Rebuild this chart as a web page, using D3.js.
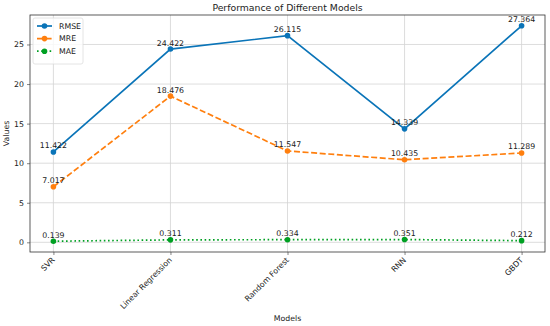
<!DOCTYPE html>
<html>
<head>
<meta charset="utf-8">
<script src="https://cdn.jsdelivr.net/npm/d3@7"></script>
<style>
  body { margin: 0; background: #fff; }
  svg, svg text { font-family: 'DejaVu Sans', sans-serif; }
</style>
</head>
<body>
<div id="chart"></div>
<script>
const models = ['SVR', 'Linear Regression', 'Random Forest', 'RNN', 'GBDT'];
const rmse = [11.422, 24.422, 26.115, 14.339, 27.364];
const mre = [7.017, 18.476, 11.547, 10.435, 11.289];
const mae = [0.139, 0.311, 0.334, 0.351, 0.212];
const yTicks = [0, 5, 10, 15, 20, 25];

const size = { width: 550, height: 326 };
const margin = { left: 30, top: 15, right: 5, bottom: 74 };
const fontFamily = "'DejaVu Sans', sans-serif";

const series = [
  { name: 'RMSE', values: rmse, color: '#0a74b8', dash: null },
  { name: 'MRE', values: mre, color: '#ff7f0e', dash: '6,2.6' },
  { name: 'MAE', values: mae, color: '#00a023', dash: '1.6,2.6' },
];

const svg = d3.select('#chart').append('svg')
  .attr('width', size.width)
  .attr('height', size.height);

const x = d3.scaleLinear()
  .domain([-0.2, models.length - 0.8])
  .range([margin.left, size.width - margin.right]);

const allVals = [...rmse, ...mre, ...mae];
const yMin = d3.min(allVals);
const yMax = d3.max(allVals);
const pad = (yMax - yMin) * 0.05;
const y = d3.scaleLinear()
  .domain([yMin - pad, yMax + pad])
  .range([size.height - margin.bottom, margin.top]);

// grid
const grid = svg.append('g').attr('stroke', '#d4d4d4').attr('stroke-width', 0.8);
models.forEach((m, i) => {
  grid.append('line')
    .attr('x1', x(i)).attr('x2', x(i))
    .attr('y1', margin.top).attr('y2', size.height - margin.bottom);
});
yTicks.forEach((t) => {
  grid.append('line')
    .attr('x1', margin.left).attr('x2', size.width - margin.right)
    .attr('y1', y(t)).attr('y2', y(t));
});

// axes
const xAxis = svg.append('g')
  .attr('transform', `translate(0, ${size.height - margin.bottom})`)
  .call(d3.axisBottom(x).tickValues(d3.range(models.length)).tickFormat((d) => models[d]).tickSize(3).tickSizeOuter(0))
  .attr('font-family', fontFamily);
xAxis.select('.domain').remove();
xAxis.selectAll('text')
  .style('font-size', '7.8px')
  .attr('fill', '#222')
  .attr('text-anchor', 'end')
  .attr('dy', null)
  .attr('y', 0)
  .attr('transform', 'translate(1.5, 8.5) rotate(-45)');

const yAxis = svg.append('g')
  .attr('transform', `translate(${margin.left}, 0)`)
  .call(d3.axisLeft(y).tickValues(yTicks).tickSize(3).tickSizeOuter(0))
  .attr('font-family', fontFamily);
yAxis.select('.domain').remove();
yAxis.selectAll('text').style('font-size', '7.8px').attr('fill', '#222');
svg.selectAll('.tick line').attr('stroke', '#333').attr('stroke-width', 0.6);

// frame
svg.append('rect')
  .attr('x', margin.left).attr('y', margin.top)
  .attr('width', size.width - margin.left - margin.right)
  .attr('height', size.height - margin.top - margin.bottom)
  .attr('fill', 'none')
  .attr('stroke', '#333')
  .attr('stroke-width', 0.8);

// lines
const line = d3.line().x((d, i) => x(i)).y((d) => y(d));

series.forEach((s) => {
  svg.append('path')
    .attr('d', line(s.values))
    .attr('fill', 'none')
    .attr('stroke', s.color)
    .attr('stroke-width', 1.7)
    .attr('stroke-dasharray', s.dash);
  svg.append('g').selectAll('circle')
    .data(s.values)
    .join('circle')
    .attr('cx', (d, i) => x(i))
    .attr('cy', (d) => y(d))
    .attr('r', 2.8)
    .attr('fill', s.color);
  svg.append('g').selectAll('text')
    .data(s.values)
    .join('text')
    .attr('x', (d, i) => x(i))
    .attr('y', (d) => y(d) - 3.5)
    .attr('text-anchor', 'middle')
    .style('font-size', '7.8px')
    .attr('fill', '#222')
    .text((d) => d.toFixed(3));
});

// legend
const legend = svg.append('g').attr('transform', `translate(${margin.left + 3}, ${margin.top + 3})`);
legend.append('rect')
  .attr('width', 50).attr('height', 46)
  .attr('rx', 2)
  .attr('fill', '#fff')
  .attr('fill-opacity', 0.8)
  .attr('stroke', '#ddd')
  .attr('stroke-width', 0.8);
series.forEach((s, i) => {
  const ly = 8 + i * 12.6;
  legend.append('line')
    .attr('x1', 4).attr('x2', 19)
    .attr('y1', ly).attr('y2', ly)
    .attr('stroke', s.color)
    .attr('stroke-width', 1.7)
    .attr('stroke-dasharray', s.dash);
  legend.append('circle')
    .attr('cx', 11.5).attr('cy', ly).attr('r', 2.8).attr('fill', s.color);
  legend.append('text')
    .attr('x', 26).attr('y', ly + 2.8)
    .style('font-size', '7.8px')
    .attr('fill', '#222')
    .text(s.name);
});

// labels
svg.append('text')
  .attr('x', (margin.left + size.width - margin.right) / 2)
  .attr('y', 11)
  .attr('text-anchor', 'middle')
  .style('font-size', '9.3px')
  .attr('fill', '#222')
  .text('Performance of Different Models');

svg.append('text')
  .attr('x', (margin.left + size.width - margin.right) / 2)
  .attr('y', 321)
  .attr('text-anchor', 'middle')
  .style('font-size', '7.8px')
  .attr('fill', '#222')
  .text('Models');

svg.append('text')
  .attr('transform', `translate(9, ${(margin.top + size.height - margin.bottom) / 2}) rotate(-90)`)
  .attr('text-anchor', 'middle')
  .style('font-size', '7.8px')
  .attr('fill', '#222')
  .text('Values');
</script>
</body>
</html>
